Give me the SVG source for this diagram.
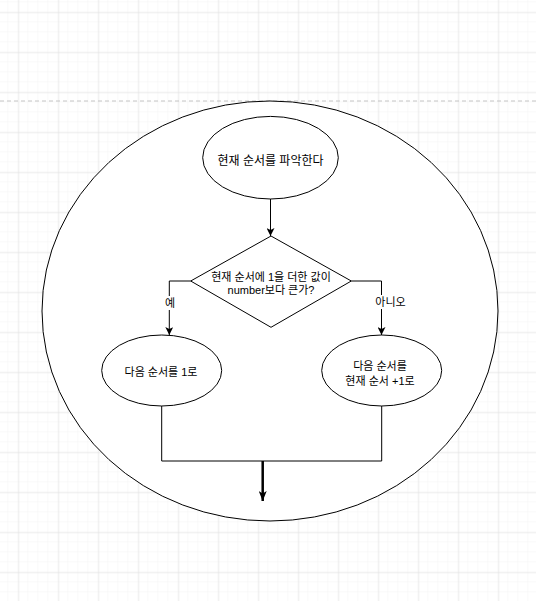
<svg xmlns="http://www.w3.org/2000/svg" width="536" height="601" viewBox="0 0 536 601">
  <defs>
    <pattern id="minor" x="8.3" y="2.3" width="10" height="10" patternUnits="userSpaceOnUse">
      <path d="M10 0V10M0 10H10" fill="none" stroke="#f3f3f3" stroke-width="1"/>
    </pattern>
    <pattern id="major" x="18.3" y="12.3" width="40" height="40" patternUnits="userSpaceOnUse">
      <path d="M0 0V40M0 0H40" fill="none" stroke="#dedede" stroke-width="1"/>
    </pattern>
    <marker id="arr" viewBox="0 0 8 8" refX="8" refY="4" markerWidth="8" markerHeight="8" markerUnits="userSpaceOnUse" orient="auto">
      <path d="M0 0L8 4L0 8L2 4Z" fill="#000"/>
    </marker>
    <marker id="arrBig" viewBox="0 0 10 8" refX="10" refY="4" markerWidth="10" markerHeight="8" markerUnits="userSpaceOnUse" orient="auto">
      <path d="M0 0L10 4L0 8L2.5 4Z" fill="#000"/>
    </marker>
  </defs>
  <style>
    .shape { fill: #ffffff; stroke: #000000; stroke-width: 1; }
    .line { fill: none; stroke: #000000; stroke-width: 1; }
    .txt { font-family: "Liberation Sans", "Noto Sans CJK KR", sans-serif; font-size: 11px; fill: #000000; text-anchor: middle; dominant-baseline: central; }
  </style>
  <rect x="0" y="0" width="536" height="601" fill="#ffffff"/>
  <rect x="0" y="0" width="536" height="601" fill="url(#minor)"/>
  <rect x="0" y="0" width="536" height="601" fill="url(#major)"/>
  <line x1="0" y1="101" x2="536" y2="101" stroke="#c4c4c4" stroke-width="1" stroke-dasharray="4 3"/>

  <g id="container">
    <ellipse class="shape" cx="270" cy="311" rx="228" ry="210" stroke-width="1.2"/>
  </g>

  <g id="connectors">
    <line class="line" x1="270.5" y1="199" x2="270.5" y2="236" marker-end="url(#arr)"/>
    <polyline class="line" points="190.7,281 169.3,281 169.3,335" marker-end="url(#arr)"/>
    <polyline class="line" points="351.3,281 381.5,281 381.5,335" marker-end="url(#arr)"/>
    <polyline class="line" points="161.7,406 161.7,461 381.7,461 381.7,406"/>
    <line x1="262.7" y1="461" x2="262.7" y2="501" stroke="#000" stroke-width="2.5" marker-end="url(#arrBig)"/>
    <rect x="163" y="296" width="14" height="14" fill="#ffffff"/>
    <text class="txt" x="170" y="303">예</text>
    <rect x="372" y="295" width="37" height="14" fill="#ffffff"/>
    <text class="txt" x="390.5" y="302">아니오</text>
  </g>

  <g id="start">
    <ellipse class="shape" cx="270.5" cy="157.7" rx="67.8" ry="41.3"/>
    <text class="txt" x="270.5" y="161" style="font-size:12px">현재 순서를 파악한다</text>
  </g>

  <g id="decision">
    <polygon class="shape" points="271,236 351.3,281 271,327.3 190.7,281"/>
    <text class="txt" x="271" y="276.5">현재 순서에 1을 더한 값이</text>
    <text class="txt" x="271" y="289.5">number보다 큰가?</text>
  </g>

  <g id="yes-node">
    <ellipse class="shape" cx="161.7" cy="370.5" rx="60" ry="35.5"/>
    <text class="txt" x="161" y="372">다음 순서를 1로</text>
  </g>

  <g id="no-node">
    <ellipse class="shape" cx="381.7" cy="370.5" rx="60" ry="35.5"/>
    <text class="txt" x="380" y="366">다음 순서를</text>
    <text class="txt" x="380" y="380.5">현재 순서 +1로</text>
  </g>
</svg>
